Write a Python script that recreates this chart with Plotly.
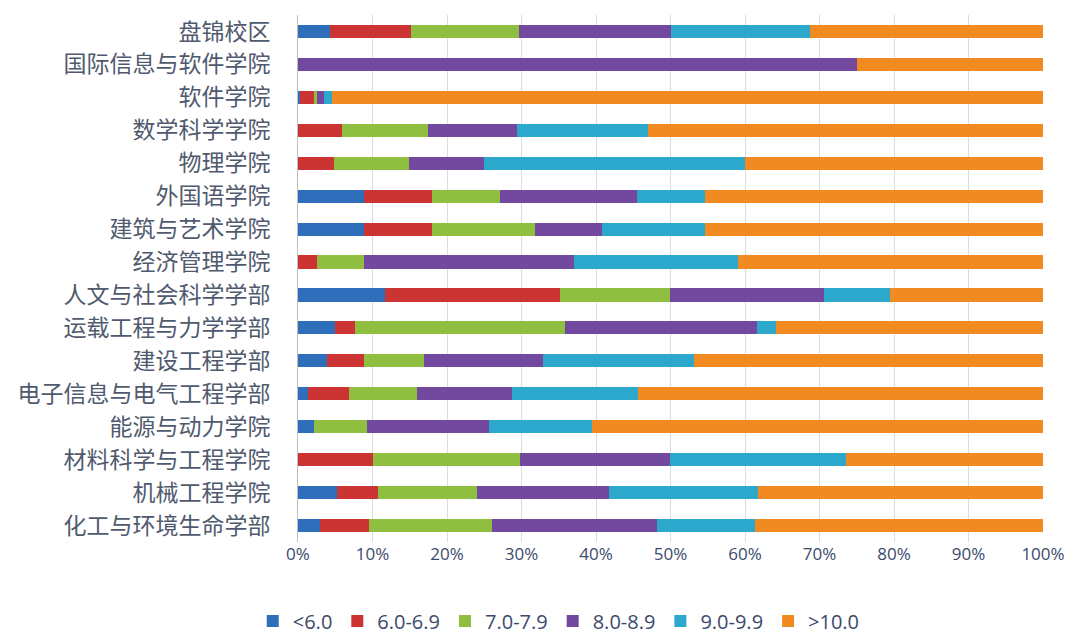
import plotly.graph_objects as go

# colleges, top to bottom as in the chart
colleges = ["盘锦校区", "国际信息与软件学院", "软件学院", "数学科学学院", "物理学院",
            "外国语学院", "建筑与艺术学院", "经济管理学院", "人文与社会科学学部",
            "运载工程与力学学部", "建设工程学部", "电子信息与电气工程学部",
            "能源与动力学院", "材料科学与工程学院", "机械工程学院", "化工与环境生命学部"]

# share (%) of each score band per college
lt_6 =     [4.3, 0, 0.3, 0, 0, 8.9, 8.8, 0, 11.7, 5.0, 3.9, 1.4, 2.2, 0, 5.3, 2.9]
s6_69 =    [10.8, 0, 1.8, 5.9, 4.8, 9.1, 9.2, 2.5, 23.5, 2.6, 5.0, 5.5, 0, 10.0, 5.5, 6.6]
s7_79 =    [14.6, 0, 0.5, 11.6, 10.1, 9.1, 13.8, 6.4, 14.7, 28.3, 8.0, 9.1, 7.1, 19.8, 13.2, 16.6]
s8_89 =    [20.3, 75.0, 0.9, 11.9, 10.0, 18.4, 9.0, 28.1, 20.7, 25.7, 16.0, 12.7, 16.3, 20.1, 17.7, 22.1]
s9_99 =    [18.7, 0, 1.1, 17.6, 35.1, 9.1, 13.8, 22.0, 8.8, 2.6, 20.2, 17.0, 13.9, 23.6, 20.0, 13.1]
gt_10 =    [31.3, 25.0, 95.4, 53.0, 40.0, 45.4, 45.4, 41.0, 20.6, 35.8, 46.9, 54.3, 60.5, 26.5, 38.3, 38.7]

bands = ["<6.0", "6.0-6.9", "7.0-7.9", "8.0-8.9", "9.0-9.9", ">10.0"]
series = [lt_6, s6_69, s7_79, s8_89, s9_99, gt_10]
colors = ["#2F6EBA", "#CC3333", "#8FBE41", "#7349A0", "#2BA8CB", "#F28A22"]

fig = go.Figure()
for name, vals, c in zip(bands, series, colors):
    fig.add_trace(go.Bar(y=colleges, x=vals, name=name, orientation="h",
                         marker=dict(color=c, line=dict(width=0))))

fig.update_layout(
    barmode="stack",
    bargap=0.6,
    width=1080, height=639,
    margin=dict(l=290, r=45, t=5, b=105),
    plot_bgcolor="white", paper_bgcolor="white",
    font=dict(family="Noto Sans CJK SC, Noto Sans", color="#44546A"),
    legend=dict(orientation="h", traceorder="normal",
                x=0.35, xanchor="center", y=-0.15, yanchor="middle",
                font=dict(size=20, color="#3B4A6B", family="Open Sans"),
                itemwidth=30),
    showlegend=True,
)
fig.update_xaxes(range=[0, 100], dtick=10, ticksuffix="%",
                 showgrid=True, gridcolor="#D9DBE6", gridwidth=1,
                 zeroline=False, showline=False, automargin=False,
                 tickfont=dict(size=17, color="#3B4A6B", family="Open Sans"))
fig.update_yaxes(autorange="reversed", categoryorder="array", categoryarray=colleges,
                 showline=True, linecolor="#BFBFBF", ticks="", ticklabelstandoff=22,
                 tickfont=dict(size=23, color="#505A6E"))

fig.write_html("out.html")
